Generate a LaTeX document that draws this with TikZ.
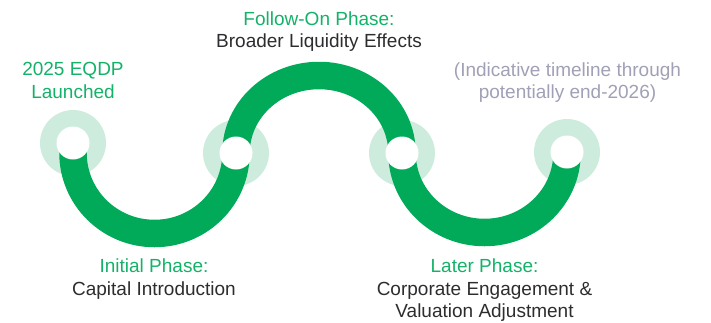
\documentclass[tikz,border=0pt]{standalone}
\usepackage{fontspec}
\setmainfont{Liberation Sans}
\definecolor{band}{RGB}{0,170,88}
\definecolor{ringc}{RGB}{206,236,221}
\definecolor{tgreen}{RGB}{20,178,104}
\definecolor{tdark}{RGB}{45,45,48}
\definecolor{tgray}{RGB}{160,160,182}
\begin{document}
\begin{tikzpicture}[x=1pt,y=-1pt,
  ring/.style={circle,fill=ringc,minimum size=66pt,inner sep=0pt},
  hole/.style={circle,fill=white,minimum size=33pt,inner sep=0pt},
  bandline/.style={draw=band,line width=27.5pt},
  lbl/.style={anchor=base,align=center,text=tdark,font={\fontsize{19}{22.3}\selectfont}}]
\useasboundingbox (0,0) rectangle (711,322);
% rings
\node[ring] (r1) at (73,143) {};
\node[ring] (r2) at (236,153) {};
\node[ring] (r3) at (402,153) {};
\node[ring] (r4) at (567,152) {};
% band
\coordinate (b1) at (73,153);
\draw[bandline] (r1.center) -- (b1)
  arc[start angle=180,end angle=360,x radius=81.5pt,y radius=80.5pt]
  arc[start angle=180,end angle=0,x radius=83pt,y radius=77.5pt]
  arc[start angle=180,end angle=360,x radius=82.5pt,y radius=79.5pt]
  -- (r4.center);
% holes
\node[hole] (h1) at (r1) {};
\node[hole] (h2) at (r2) {};
\node[hole] (h3) at (r3) {};
\node[hole] (h4) at (r4) {};
% labels (anchored at the baseline of their last line)
\node[lbl,text=tgreen] (t0) at (73,98) {2025 EQDP\\Launched};
\node[lbl] (t1) at (319,47.5) {{\color{tgreen}Follow-On Phase:}\\Broader Liquidity Effects};
\node[lbl,text=tgray] (t2) at (567.5,98.5) {(Indicative timeline through\\potentially end-2026)};
\node[lbl] (t3) at (154,295) {{\color{tgreen}Initial Phase:}\\Capital Introduction};
\node[lbl] (t4) at (484.5,317.5) {{\color{tgreen}Later Phase:}\\Corporate Engagement \&\\Valuation Adjustment};
\end{tikzpicture}
\end{document}
